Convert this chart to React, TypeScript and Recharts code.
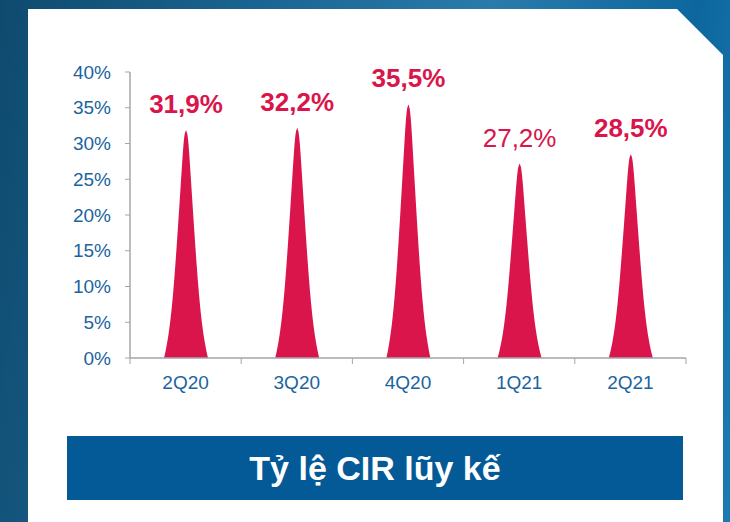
import { BarChart, Bar, XAxis, YAxis, LabelList } from 'recharts';

const quarters = ['2Q20', '3Q20', '4Q20', '1Q21', '2Q21'];
const cirValues = [31.9, 32.2, 35.5, 27.2, 28.5];
const yTicks = [0, 5, 10, 15, 20, 25, 30, 35, 40];

const chartData = quarters.map((q, i) => ({ quarter: q, cir: cirValues[i] }));

const RED = '#D9154B';
const BLUE_TEXT = '#1B64A0';
const AXIS_GRAY = '#A6A6A6';
const FONT = 'Arial, "Liberation Sans", sans-serif';
// label of 1Q21 is in regular weight in the source slide
const REGULAR_LABEL_INDEX = 3;

// relative half-width of the spike at height fraction t (0 = base, 1 = tip)
function spikeProfile(t: number) {
  const linear = 0.74 - 0.66 * t;
  const flare = 0.26 * Math.exp(-t / 0.14);
  const tip = Math.sqrt(Math.max(0, 1 - Math.pow(t, 30)));
  return (linear + flare) * tip;
}

function Spike(props: any) {
  const { x, y, width, height } = props;
  if (!height || height <= 0) return null;
  const cx = x + width / 2;
  const base = y + height;
  const hw = width / 2;
  const steps = 60;
  const left: string[] = [];
  const right: string[] = [];
  for (let i = 0; i <= steps; i++) {
    const t = i / steps;
    const w = hw * spikeProfile(t);
    const py = base - height * t;
    left.push(`${cx - w},${py}`);
    right.unshift(`${cx + w},${py}`);
  }
  return <polygon points={[...left, ...right].join(' ')} fill={RED} />;
}

function ValueLabel(props: any) {
  const { x, y, width, value, index } = props;
  return (
    <text
      x={x + width / 2}
      y={y - 17}
      textAnchor="middle"
      fill={RED}
      fontSize={26}
      fontFamily={FONT}
      fontWeight={index === REGULAR_LABEL_INDEX ? 400 : 700}
    >
      {String(value).replace('.', ',')}%
    </text>
  );
}

function QuarterTick(props: any) {
  const { x, y, payload, index, visibleTicksCount, width } = props;
  const band = (width || 555) / (visibleTicksCount || 5);
  const axisY = y - 18;
  return (
    <g>
      <line x1={x - band / 2} x2={x - band / 2} y1={axisY} y2={axisY + 6} stroke={AXIS_GRAY} />
      {index === visibleTicksCount - 1 && (
        <line x1={x + band / 2} x2={x + band / 2} y1={axisY} y2={axisY + 6} stroke={AXIS_GRAY} />
      )}
      <text x={x} y={y + 13} textAnchor="middle" fill={BLUE_TEXT} fontSize={19} fontFamily={FONT}>
        {payload.value}
      </text>
    </g>
  );
}

export default function App() {
  return (
    <div
      style={{
        position: 'absolute',
        left: 0,
        top: 0,
        width: 730,
        height: 522,
        overflow: 'hidden',
        background:
          'linear-gradient(100deg, #0f4a6e 0%, #1a6390 30%, #2a7bab 60%, #0d679e 85%, #1b7bb0 100%)',
      }}
    >
      <div
        style={{
          position: 'absolute',
          left: 28,
          top: 9,
          width: 695,
          height: 513,
          background: '#ffffff',
          clipPath: 'polygon(0 0, 649px 0, 695px 46px, 695px 100%, 0 100%)',
        }}
      />
      <div style={{ position: 'absolute', left: 0, top: 0 }}>
        <BarChart
          width={730}
          height={522}
          data={chartData}
          margin={{ top: 72, right: 44, bottom: 134, left: 49 }}
        >
          <XAxis
            dataKey="quarter"
            height={30}
            axisLine={{ stroke: AXIS_GRAY, strokeWidth: 1.5 }}
            tickLine={false}
            tickSize={6}
            tickMargin={12}
            tick={<QuarterTick />}
            interval={0}
          />
          <YAxis
            width={81}
            domain={[0, 40]}
            ticks={yTicks}
            interval={0}
            tickFormatter={(v: number) => `${v}%`}
            axisLine={{ stroke: AXIS_GRAY, strokeWidth: 1.5 }}
            tickLine={{ stroke: AXIS_GRAY }}
            tickSize={5}
            tickMargin={14}
            tick={{ fill: BLUE_TEXT, fontSize: 19, fontFamily: FONT }}
          />
          <Bar dataKey="cir" barSize={44} shape={<Spike />} isAnimationActive={false}>
            <LabelList dataKey="cir" content={<ValueLabel />} />
          </Bar>
        </BarChart>
      </div>
      <div
        style={{
          position: 'absolute',
          left: 67,
          top: 436,
          width: 616,
          height: 64,
          background: '#035A96',
          color: '#ffffff',
          fontFamily: FONT,
          fontWeight: 700,
          fontSize: 34,
          display: 'flex',
          alignItems: 'center',
          justifyContent: 'center',
        }}
      >
        Tỷ lệ CIR lũy kế
      </div>
    </div>
  );
}
